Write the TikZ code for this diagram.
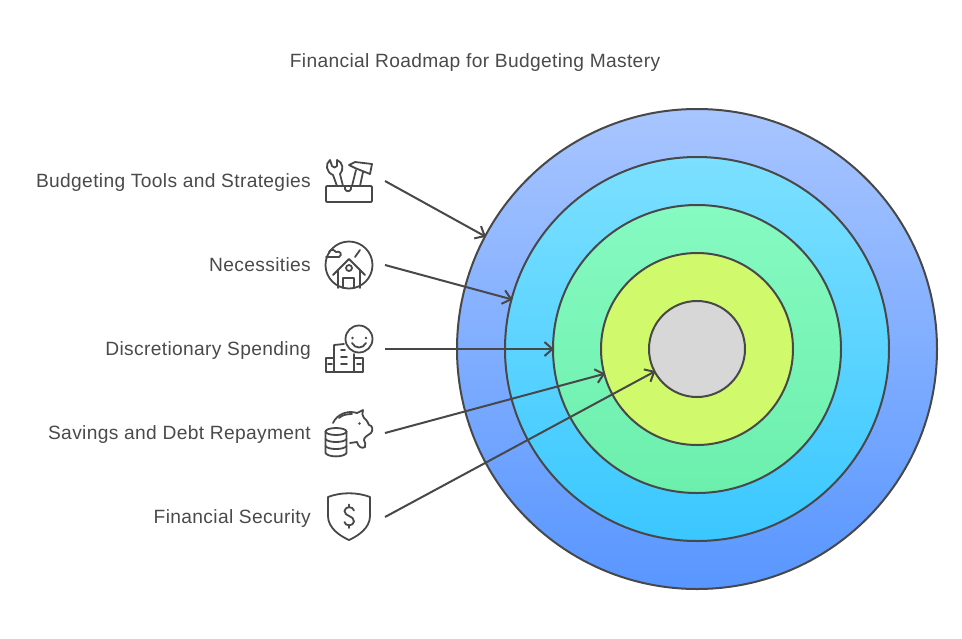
\documentclass[tikz,border=0pt]{standalone}
\usepackage{fontspec}
\setmainfont[LetterSpace=1.8]{Liberation Sans}
\usetikzlibrary{arrows.meta}
\definecolor{inkdark}{HTML}{484848}
\definecolor{textdark}{HTML}{4A4A4A}
\tikzset{
  ring/.style={circle,draw=inkdark,line width=2pt,inner sep=0pt,outer sep=0pt},
  road label/.style={font=\fontsize{19.2}{22}\selectfont,text=textdark,anchor=base east,inner sep=0pt},
  road title/.style={font=\fontsize{19.2}{22}\selectfont,text=textdark,anchor=base,inner sep=0pt},
  pointer/.style={draw=inkdark,line width=2pt,-{Straight Barb[length=8pt,width=14pt,line width=2pt]},shorten >=-1pt},
  icon line/.style={draw=inkdark,line width=1.8pt,line cap=round,line join=round}
}
\begin{document}
\begin{tikzpicture}[x=1pt,y=-1pt]
  \useasboundingbox (0,0) rectangle (962,638);
  \node[road title] (title) at (475,67.5) {Financial Roadmap for Budgeting Mastery};

  % Five rings, outermost first.
  \node[ring,minimum size=480pt,top color={rgb,255:red,168;green,197;blue,255},bottom color={rgb,255:red,88;green,150;blue,255}] (ring1) at (697,349) {};
  \node[ring,minimum size=384pt,top color={rgb,255:red,124;green,224;blue,255},bottom color={rgb,255:red,58;green,199;blue,255}] (ring2) at (697,349) {};
  \node[ring,minimum size=288pt,top color={rgb,255:red,134;green,250;blue,193},bottom color={rgb,255:red,108;green,239;blue,173}] (ring3) at (697,349) {};
  \node[ring,minimum size=192pt,fill={rgb,255:red,208;green,250;blue,108}] (ring4) at (697,349) {};
  \node[ring,minimum size=96pt,fill={rgb,255:red,215;green,215;blue,215}] (ring5) at (697,349) {};

  % Labels, right aligned next to the icons.
  \node[road label] (tools) at (311,187.5) {Budgeting Tools and Strategies};
  \node[road label] (needs) at (311,271.5) {Necessities};
  \node[road label] (spend) at (311,355.5) {Discretionary Spending};
  \node[road label] (saving) at (311,439.5) {Savings and Debt Repayment};
  \node[road label] (secure) at (311,523.5) {Financial Security};

  % Arrows from the icons into the rings.
  \coordinate (tail1) at (385,181);
  \coordinate (tail2) at (385,265);
  \coordinate (tail3) at (385,349);
  \coordinate (tail4) at (385,433);
  \coordinate (tail5) at (385,517);
  \draw[pointer] (tail1) -- (ring1.152);
  \draw[pointer] (tail2) -- (ring2.165);
  \draw[pointer] (tail3) -- (ring3.180);
  \draw[pointer] (tail4) -- (ring4.195);
  \draw[pointer] (tail5) -- (ring5.208);

  % Toolbox icon.
  \draw[icon line,rounded corners=1pt] (326,186) rectangle (372,202);
  \draw[icon line] (345,186) -- (345,189) .. controls (346,192) and (350,192) .. (351,189) -- (351,186);
  \draw[icon line] (337,186) -- (333,175) .. controls (326,172) and (325,164) .. (330,160)
        -- (332,166) .. controls (333,168) and (336,168) .. (337,166) -- (337,160)
        .. controls (343,162) and (344,170) .. (340,174) -- (343,186);
  \draw[icon line] (352,186) -- (356,170) (360,186) -- (363,172);
  \draw[icon line] (349,165) -- (355,162) -- (372,164) -- (370,174) -- (355,168) -- cycle;

  % House icon.
  \draw[icon line] (349,265) circle (23.5);
  \draw[icon line] (333,275) -- (349,259) -- (365,275);
  \draw[icon line] (338,270) -- (338,288) (360,270) -- (360,288);
  \draw[icon line] (343,288) -- (343,278) -- (354,278) -- (354,288);
  \draw[icon line] (349,268) circle (3);
  \draw[icon line] (326,257) -- (339,257) .. controls (343,255) and (340,250) .. (336,252)
        .. controls (333,248) and (329,250) .. (329,253);
  \draw[icon line] (355,257) -- (360,250);

  % Smiling face over buildings.
  \draw[icon line] (359,339) circle (13.5);
  \fill[inkdark] (352.5,338) circle (1.3) (366,338) circle (1.3);
  \draw[icon line] (352,343) .. controls (355,349) and (363,349) .. (366,343);
  \draw[icon line] (344,344) -- (334,345) -- (334,372);
  \draw[icon line] (354,354) -- (354,372);
  \draw[icon line] (334,358) -- (326,358) -- (326,372) -- (363,372) -- (363,358) -- (354,358);
  \draw[icon line] (341,350) -- (345,350) (341,357) -- (347,357) (341,364) -- (347,364)
        (328,364) -- (332,364) (357,364) -- (361,364);

  % Coins and piggy bank.
  \draw[icon line] (336,431.5) ellipse (10.5 and 3.5);
  \draw[icon line] (325.5,431.5) -- (325.5,453) .. controls (328,457.5) and (344,457.5) .. (346.5,453) -- (346.5,431.5);
  \draw[icon line] (325.5,439) .. controls (328,443) and (344,443) .. (346.5,439)
        (325.5,446) .. controls (328,450) and (344,450) .. (346.5,446);
  \draw[icon line] (333,423) .. controls (337,414) and (348,410) .. (357,413) -- (363,410)
        .. controls (362,413) and (362,416) .. (364,418) .. controls (367,420) and (368,423) .. (369,425)
        .. controls (373,425) and (373,431) .. (371,433) .. controls (367,436) and (364,437) .. (364,440)
        .. controls (364,443) and (367,444) .. (365,447) .. controls (362,449) and (358,447) .. (357,442)
        -- (350,443);
  \draw[icon line] (339,418) .. controls (342,415) and (347,414) .. (352,414);
  \fill[inkdark] (359.5,423.5) circle (1.3);

  % Shield with dollar sign.
  \draw[icon line] (328,497) .. controls (341,492) and (357,492) .. (370,497) -- (370,516)
        .. controls (370,528) and (358,536) .. (349,540) .. controls (340,536) and (328,528) .. (328,516) -- cycle;
  \draw[icon line] (354,510.5) .. controls (353,506) and (345,506) .. (344.5,511)
        .. controls (344.5,517) and (354,515) .. (354,521.5) .. controls (353.5,526.5) and (345,526.5) .. (344.5,522);
  \draw[icon line] (349.3,504.5) -- (349.3,507.5) (349.3,525) -- (349.3,528);
\end{tikzpicture}
\end{document}
